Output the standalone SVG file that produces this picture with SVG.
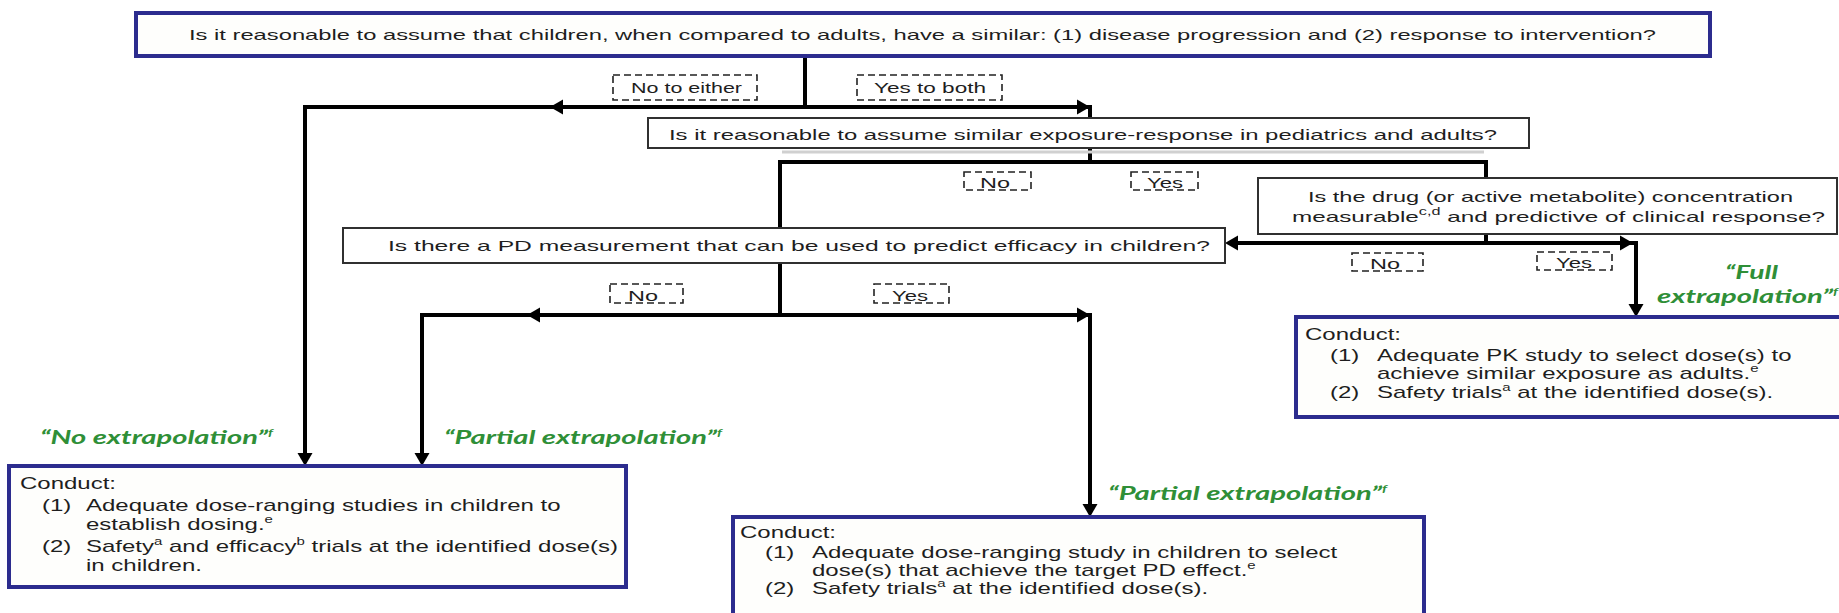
<svg xmlns="http://www.w3.org/2000/svg" xmlns:xlink="http://www.w3.org/1999/xlink" width="1839" height="613" viewBox="0 0 1839 613">
<style>
.navy{fill:#fefefc;stroke:#2c2c8e;stroke-width:4}
.q{fill:#ffffff;stroke:#303030;stroke-width:2}
.shadow{fill:none;stroke:#d0d0d0;stroke-width:3}
.t{font-family:"Liberation Sans",Arial,sans-serif;font-size:15px;fill:#1e1e1e}
.c{font-family:"Liberation Sans",Arial,sans-serif;font-size:16px;fill:#1e1e1e}
.lbl{font-family:"Liberation Sans",Arial,sans-serif;font-size:14px;fill:#1e1e1e}
.g{font-family:Lato,"Open Sans",sans-serif;font-size:19px;font-weight:bold;font-style:italic;fill:#2f8f37}
.dash{fill:none;stroke:#222;stroke-width:1.6;stroke-dasharray:7,4}
.ln{fill:none;stroke:#000;stroke-width:4;stroke-linejoin:miter}
.sup{font-size:10px}
</style>
<defs>
<polygon id="ah" points="1,0 -12,-7.5 -12,7.5" fill="#000"/>
</defs>

<g id="connectors">
<path class="ln" d="M805,57 V107"/>
<path class="ln" d="M305,455 V107 H1090 V118"/>
<path class="ln" d="M1090,148 V162"/>
<path class="ln" d="M780,228 V162 H1486 V178"/>
<path class="ln" d="M780,263 V315"/>
<path class="ln" d="M422,455 V315 H1090 V505"/>
<path class="ln" d="M1486,234 V243"/>
<path class="ln" d="M1236,243 H1636 V305"/>
<use xlink:href="#ah" transform="translate(551,107) rotate(180)"/>
<use xlink:href="#ah" transform="translate(1089,107)"/>
<use xlink:href="#ah" transform="translate(305,465) rotate(90)"/>
<use xlink:href="#ah" transform="translate(528,315) rotate(180)"/>
<use xlink:href="#ah" transform="translate(1089,315)"/>
<use xlink:href="#ah" transform="translate(422,465) rotate(90)"/>
<use xlink:href="#ah" transform="translate(1090,516) rotate(90)"/>
<use xlink:href="#ah" transform="translate(1226,243) rotate(180)"/>
<use xlink:href="#ah" transform="translate(1632,243)"/>
<use xlink:href="#ah" transform="translate(1636,316) rotate(90)"/>
</g>

<g id="labels">
<rect class="dash" x="613" y="75" width="144" height="25"/>
<text class="lbl" x="631" y="93" textLength="111" lengthAdjust="spacingAndGlyphs">No to either</text>
<rect class="dash" x="857" y="75" width="145" height="25"/>
<text class="lbl" x="874" y="93" textLength="112" lengthAdjust="spacingAndGlyphs">Yes to both</text>
<rect class="dash" x="964" y="172" width="67" height="18"/>
<text class="lbl" x="980" y="188" textLength="30" lengthAdjust="spacingAndGlyphs">No</text>
<rect class="dash" x="1131" y="172" width="67" height="18"/>
<text class="lbl" x="1147" y="188" textLength="36" lengthAdjust="spacingAndGlyphs">Yes</text>
<rect class="dash" x="610" y="284" width="73" height="19"/>
<text class="lbl" x="628" y="301" textLength="30" lengthAdjust="spacingAndGlyphs">No</text>
<rect class="dash" x="874" y="284" width="75" height="19"/>
<text class="lbl" x="892" y="301" textLength="36" lengthAdjust="spacingAndGlyphs">Yes</text>
<rect class="dash" x="1352" y="253" width="71" height="18"/>
<text class="lbl" x="1370" y="269" textLength="30" lengthAdjust="spacingAndGlyphs">No</text>
<rect class="dash" x="1537" y="252" width="75" height="18"/>
<text class="lbl" x="1556" y="268" textLength="36" lengthAdjust="spacingAndGlyphs">Yes</text>
</g>

<g id="q1">
<rect class="navy" x="136" y="13" width="1574" height="43"/>
<text class="t" x="189" y="40" textLength="1467" lengthAdjust="spacingAndGlyphs">Is it reasonable to assume that children, when compared to adults, have a similar: (1) disease progression and (2) response to intervention?</text>
</g>

<g id="q2">
<line class="shadow" x1="782" y1="152" x2="1484" y2="152"/>
<rect class="q" x="648" y="118" width="881" height="30"/>
<text class="t" x="669" y="140" textLength="828" lengthAdjust="spacingAndGlyphs">Is it reasonable to assume similar exposure-response in pediatrics and adults?</text>
</g>

<g id="q3">
<rect class="q" x="1258" y="178" width="579" height="56"/>
<text class="t" x="1308" y="202" textLength="485" lengthAdjust="spacingAndGlyphs">Is the drug (or active metabolite) concentration</text>
<text class="t" x="1292" y="222" textLength="533" lengthAdjust="spacingAndGlyphs">measurable<tspan class="sup" dy="-7">c,d</tspan><tspan dy="7"> and predictive of clinical response?</tspan></text>
</g>

<g id="q4">
<rect class="q" x="343" y="228" width="882" height="35"/>
<text class="t" x="388" y="251" textLength="822" lengthAdjust="spacingAndGlyphs">Is there a PD measurement that can be used to predict efficacy in children?</text>
</g>

<g id="no-extrapolation">
<text class="g" x="40" y="444" textLength="233" lengthAdjust="spacingAndGlyphs">“No extrapolation”<tspan class="sup" dy="-8">f</tspan></text>
<rect class="navy" x="9" y="466" width="617" height="121"/>
<text class="c" transform="translate(20,489) scale(1.5,1)">Conduct:</text>
<text class="c" transform="translate(42,511) scale(1.5,1)">(1)</text>
<text class="c" transform="translate(86,511) scale(1.5,1)">Adequate dose-ranging studies in children to</text>
<text class="c" transform="translate(86,530) scale(1.5,1)">establish dosing.<tspan class="sup" dy="-7">e</tspan></text>
<text class="c" transform="translate(42,552) scale(1.5,1)">(2)</text>
<text class="c" transform="translate(86,552) scale(1.5,1)">Safety<tspan class="sup" dy="-7">a</tspan><tspan dy="7"> and efficacy</tspan><tspan class="sup" dy="-7">b</tspan><tspan dy="7"> trials at the identified dose(s)</tspan></text>
<text class="c" transform="translate(86,571) scale(1.5,1)">in children.</text>
</g>

<g id="partial-extrapolation-1">
<text class="g" x="444" y="444" textLength="278" lengthAdjust="spacingAndGlyphs">“Partial extrapolation”<tspan class="sup" dy="-8">f</tspan></text>
</g>

<g id="partial-extrapolation-2">
<text class="g" x="1108" y="500" textLength="279" lengthAdjust="spacingAndGlyphs">“Partial extrapolation”<tspan class="sup" dy="-8">f</tspan></text>
<rect class="navy" x="733" y="517" width="691" height="110"/>
<text class="c" transform="translate(740,538) scale(1.5,1)">Conduct:</text>
<text class="c" transform="translate(765,558) scale(1.5,1)">(1)</text>
<text class="c" transform="translate(812,558) scale(1.5,1)">Adequate dose-ranging study in children to select</text>
<text class="c" transform="translate(812,576) scale(1.5,1)">dose(s) that achieve the target PD effect.<tspan class="sup" dy="-7">e</tspan></text>
<text class="c" transform="translate(765,594) scale(1.5,1)">(2)</text>
<text class="c" transform="translate(812,594) scale(1.5,1)">Safety trials<tspan class="sup" dy="-7">a</tspan><tspan dy="7"> at the identified dose(s).</tspan></text>
</g>

<g id="full-extrapolation">
<text class="g" x="1725" y="279" textLength="53" lengthAdjust="spacingAndGlyphs">“Full</text>
<text class="g" x="1657" y="303" textLength="181" lengthAdjust="spacingAndGlyphs">extrapolation”<tspan class="sup" dy="-8">f</tspan></text>
<rect class="navy" x="1296" y="317" width="560" height="100"/>
<text class="c" transform="translate(1305,340) scale(1.5,1)">Conduct:</text>
<text class="c" transform="translate(1330,361) scale(1.5,1)">(1)</text>
<text class="c" transform="translate(1377,361) scale(1.5,1)">Adequate PK study to select dose(s) to</text>
<text class="c" transform="translate(1377,379) scale(1.5,1)">achieve similar exposure as adults.<tspan class="sup" dy="-7">e</tspan></text>
<text class="c" transform="translate(1330,398) scale(1.5,1)">(2)</text>
<text class="c" transform="translate(1377,398) scale(1.5,1)">Safety trials<tspan class="sup" dy="-7">a</tspan><tspan dy="7"> at the identified dose(s).</tspan></text>
</g>
</svg>
